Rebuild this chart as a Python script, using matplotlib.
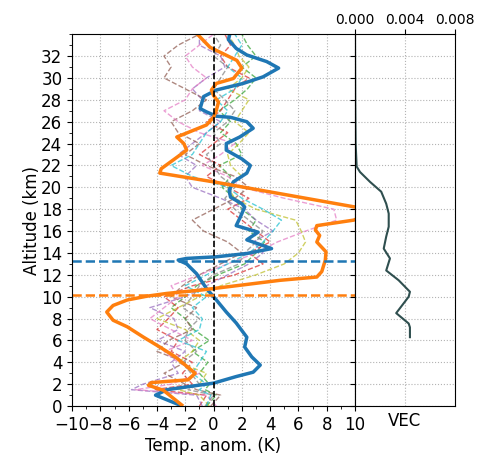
import numpy as np
import matplotlib.pyplot as plt
from matplotlib.ticker import MultipleLocator

# mean temperature anomaly profiles (K) against altitude (km)
alt_blue = [0.1, 1.0, 1.5, 2.1, 2.7, 3.1, 3.75, 4.5, 5.4, 6.3, 7.6, 8.6, 9.7,
            10.75, 12.1, 13.0, 13.35, 13.5, 13.65, 13.95, 14.4, 15.2, 15.9,
            16.5, 17.3, 18.2, 18.5, 19.1, 19.75, 20.5, 21.3, 22.0, 22.6, 23.4,
            24.0, 24.6, 25.4, 26.0, 26.4, 26.5, 26.9, 27.2, 28.3, 28.9, 29.5,
            30.1, 30.9, 31.5, 32.1, 32.7, 33.5, 34.0]
temp_blue = [-2.4, -4.1, -3.3, 0.0, 1.6, 2.8, 3.3, 2.7, 2.2, 2.35, 1.6, 0.9, 0.2,
             -0.5, -1.2, -1.9, -2.5, -1.9, 0.2, 2.35, 4.1, 2.35, 3.15,
             1.6, 1.9, 2.2, 2.0, 1.2, 1.1, 1.4, 2.35, 2.6, 2.0, 0.9,
             0.9, 1.85, 2.8, 2.35, 1.2, 0.2, -0.5, -0.95, -0.7, 0.2, 2.1,
             3.5, 4.6, 3.75, 2.35, 1.6, 1.05, 1.15]

alt_orange = [0.1, 1.45, 1.9, 2.15, 2.4, 3.0, 3.75, 4.5, 5.4, 6.3, 7.25, 7.85,
              8.6, 9.2, 9.7, 10.05, 10.3, 10.6, 11.05, 11.5, 11.8, 12.3, 13.35,
              14.1, 15.0, 15.6, 16.1, 16.5, 17.0, 17.5, 17.9, 18.2, 20.5, 21.3,
              21.7, 22.5, 23.4, 24.0, 24.6, 25.2, 25.7, 26.4, 27.05, 27.8, 28.4,
              28.9, 29.5, 29.95, 30.9, 31.6, 32.2, 32.8, 33.9]
temp_orange = [-2.25, -3.55, -4.6, -4.4, -1.8, -1.3, -2.0, -2.7, -3.8, -4.95,
               -6.1, -7.1, -7.55, -7.1, -6.1, -4.7, -3.3, -0.95, 1.9, 4.7, 7.3,
               7.65, 7.9, 7.95, 7.3, 7.5, 7.2, 7.3, 9.9, 11.0, 10.6, 10.0, 0.0,
               -3.8, -3.7, -2.85, -1.9, -2.1, -2.6, -1.45, -0.5, 0.0, 0.2, 0.35,
               0.0, -0.15, 0.2, 1.4, 2.0, 1.65, 0.7, -0.25, -1.07]

# individual profiles (thin dashed)
alt_ind = [0, 1, 1.5, 2, 3, 4, 5, 6, 7, 8, 9, 10, 11, 12, 13, 14, 15, 16, 17,
           18, 19, 20, 21, 22, 23, 24, 25, 26, 27, 28, 29, 30, 31, 32, 33, 34]
temp_green = [-0.5, 0.2, -0.6, -0.3, -1.0, -0.4, -1.5, -0.3, -1.4, -2.0, -3.0,
              -2.0, -1.2, 0.3, 2.2, 3.0, 3.6, 2.5, 3.0, 2.0, 1.5, 0.6, 1.2, 0.4,
              2.0, 1.6, 0.5, 1.2, 0.4, 1.5, 2.4, 3.0, 2.0, 3.0, 2.4, 2.0]
temp_red = [-1.0, -0.5, -4.2, -1.5, -2.2, -1.5, -3.0, -2.5, -4.0, -3.2, -2.5,
            -3.5, -1.5, 1.5, 3.5, 2.5, 4.0, 3.0, 2.0, 1.0, 2.5, 1.0, -0.5, 0.5,
            -1.0, 0.0, 1.0, -0.5, 0.5, 1.0, 1.5, 2.5, 1.0, 0.5, 1.2, 0.8]
temp_purple = [-0.8, -1.2, -5.8, -5.0, -2.5, -3.0, -2.0, -4.0, -2.5, -2.8, -4.5,
               -2.0, -0.5, 1.0, 2.5, 3.5, 2.8, 4.2, 3.0, 2.2, 0.5, -1.5, -2.0,
               -1.2, -2.5, -1.5, -0.5, 0.5, -1.0, -0.8, -1.5, -0.5, 0.8, 0.5,
               -1.0, -1.0]
temp_brown = [-0.2, 0.5, -1.2, -2.0, -3.5, -2.0, -4.0, -3.2, -1.5, -2.0, -1.2,
              -3.0, -2.2, -1.0, 0.5, 2.0, 1.0, -0.7, -1.5, 0.0, 1.5, 2.5, 1.5,
              -0.5, -2.0, -1.0, -2.5, -3.0, -1.5, -0.5, -2.0, -3.5, -3.0, -3.5,
              -2.5, -1.0]
temp_pink = [0.2, -0.5, -5.5, -3.0, -1.0, -2.5, -3.5, -1.5, -3.0, -4.5, -3.5,
             -2.5, -3.0, -1.0, 1.0, 3.0, 4.5, 6.5, 8.7, 8.5, 5.0, 2.0, 1.0, -0.8,
             0.5, 1.5, -1.0, -2.5, -3.5, -2.0, -1.5, -0.5, -1.5, -2.0, -1.0, 0.0]
temp_gray = [-0.6, 0.0, -1.8, -1.0, -1.6, -2.2, -1.2, -2.0, -1.8, -1.0, -2.2,
             -1.5, -1.0, 0.0, 1.8, 2.2, 3.0, 3.5, 2.5, 1.5, 0.8, 1.5, 0.5, 0.0,
             -0.5, 0.5, 0.0, 1.0, 1.5, 0.8, 0.0, 0.5, 1.0, 0.0, 0.5, 0.0]
temp_olive = [-0.3, -1.0, -2.5, -1.0, -0.5, -2.5, -1.5, -1.0, -2.0, -4.0, -2.5,
              -1.0, 0.5, 3.0, 5.0, 6.0, 6.5, 6.2, 5.8, 3.0, 1.5, 1.0, 2.0, 1.2,
              1.0, 1.8, 2.5, 1.5, 2.0, 2.5, 1.0, 2.0, 2.5, 1.8, 1.5, 1.0]
temp_cyan = [-0.5, -0.2, -1.0, -0.5, -1.5, -1.0, -0.5, -2.5, -1.0, -0.8, -1.5,
             -0.5, -2.0, -0.5, 1.0, 2.5, 3.5, 4.2, 4.8, 3.5, 2.0, 1.0, -1.5,
             -3.0, -1.5, -1.0, -0.5, 0.5, 1.0, 0.2, 1.5, 2.0, 1.0, 1.5, 2.0, 1.5]
ind_profiles = [temp_green, temp_red, temp_purple, temp_brown,
                temp_pink, temp_gray, temp_olive, temp_cyan]
ind_colors = ['C2', 'C3', 'C4', 'C5', 'C6', 'C7', 'C8', 'C9']

# tropopause heights (km)
trop_blue = 13.3
trop_orange = 10.2

# vertical energy content profile
alt_vec = [6.3, 7.2, 7.55, 8.5, 10.0, 10.45, 11.5, 12.4, 13.5, 14.4, 15.5, 16.4,
           17.6, 18.5, 19.6, 20.5, 21.4, 21.9, 24.0, 28.0, 34.0]
vec = [0.0044, 0.0044, 0.0043, 0.0033, 0.0043, 0.0044, 0.0035, 0.0025, 0.0028,
       0.0023, 0.0025, 0.0027, 0.0027, 0.0025, 0.0021, 0.0012, 0.0004, 0.00013,
       0.00005, 0.00002, 0.0]

plt.rcParams['font.size'] = 12
fig = plt.figure(figsize=(4.87, 4.62), dpi=100)
ax = fig.add_axes([0.148, 0.121, 0.581, 0.805])
ax2 = fig.add_axes([0.729, 0.121, 0.205, 0.805], sharey=ax)

for temp, c in zip(ind_profiles, ind_colors):
    ax.plot(temp, alt_ind, '--', color=c, lw=1, alpha=0.7)
ax.plot(temp_blue, alt_blue, color='C0', lw=2.5)
ax.plot(temp_orange, alt_orange, color='C1', lw=2.5)
ax.axvline(0, color='k', ls='--', lw=1.2)
ax.axhline(trop_blue, color='C0', ls='--', lw=1.8)
ax.axhline(trop_orange, color='C1', ls='--', lw=1.8)

ax.set_xlim(-10, 10)
ax.set_ylim(0, 34)
ax.set_xticks(range(-10, 11, 2))
ax.set_yticks(range(0, 33, 2))
ax.xaxis.set_minor_locator(MultipleLocator(1))
ax.yaxis.set_minor_locator(MultipleLocator(1))
ax.grid(ls=':', color='0.7')
ax.set_xlabel('Temp. anom. (K)', labelpad=2)
ax.set_ylabel('Altitude (km)', labelpad=0)

ax2.plot(vec, alt_vec, color='darkslategray', lw=1.5)
ax2.set_xlim(0, 0.008)
ax2.set_xticks([0, 0.004, 0.008])
ax2.xaxis.tick_top()
ax2.tick_params(axis='x', labelsize=10, pad=2)
ax2.tick_params(axis='y', labelleft=False)
ax2.tick_params(axis='y', which='minor', length=0)
ax2.set_xlabel('VEC')
ax2.grid(ls=':', color='0.7')

fig.savefig('out.png', dpi=100)
